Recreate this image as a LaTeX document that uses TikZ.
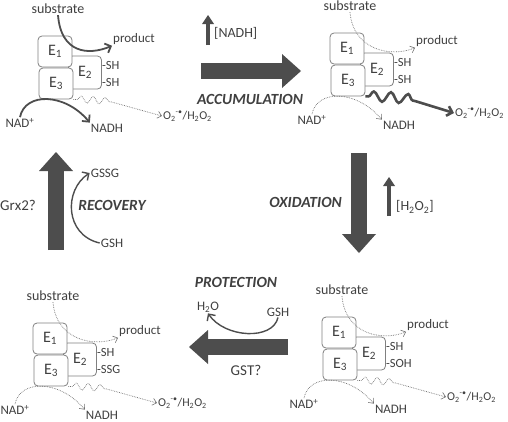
\documentclass[tikz,border=0pt]{standalone}
\usepackage{fontspec}
\setmainfont{Carlito}
\usetikzlibrary{arrows.meta,decorations.pathmorphing}

\definecolor{ink}{HTML}{404040}
\definecolor{fat}{HTML}{4D4D4D}
\definecolor{rim}{HTML}{808080}

\begin{document}
\begin{tikzpicture}[x=1pt,y=-1pt,
  every node/.style={text=ink,inner sep=1pt,font=\fontsize{13}{15}\selectfont},
  enz/.style={draw=rim,fill=white,line width=0.8pt,rounded corners=4pt,minimum width=34pt,minimum height=31pt,font=\fontsize{16}{18}\selectfont},
  phase/.style={font=\fontsize{15.5}{18}\selectfont\bfseries\itshape},
  enzname/.style={font=\fontsize{15}{17}\selectfont},
  bigarrow/.style={draw=fat,line width=16pt,-{Triangle[length=19pt,width=34pt,line width=0pt]}},
  rise/.style={draw=fat,line width=3.5pt,-{Triangle[length=9pt,width=12pt,line width=0pt]}},
  flow/.style={draw=fat,line width=1.8pt,-{Straight Barb[length=5pt,width=10pt]}},
  glu/.style={draw=fat,line width=1.4pt,-{Straight Barb[length=5pt,width=10pt]}},
  leak/.style={draw=ink!75,densely dotted,line width=0.7pt,-{Straight Barb[length=4pt,width=7pt,line width=0.6pt]}},
  wave/.style={decorate,decoration={snake,amplitude=3.5pt,segment length=12pt,pre length=4pt,post length=52pt}},
]
\useasboundingbox (0,0) rectangle (508,421);

% the four states of the complex
\foreach \p/\x/\y/\t/\px/\py in {A/38/36/SH/96/3,B/330/33/SH/107/8,C/322/317/SOH/106/8,D/33/323/SSG/107/8}{
  \begin{scope}[shift={(\x,\y)},name prefix=\p-]
    \node[enz,minimum width=33pt,minimum height=33pt] (E2) at (47,36.5) {E\textsubscript{2}};
    \node[enz] (E1) at (17,15.5) {E\textsubscript{1}};
    \node[enz] (E3) at (18,47.5) {E\textsubscript{3}};
    \node[anchor=west,inner sep=0pt,font=\fontsize{12.5}{14}\selectfont] (s1) at (E2.east |- 0,29) {-SH};
    \node[anchor=west,inner sep=0pt,font=\fontsize{12.5}{14}\selectfont] (s2) at (E2.east |- 0,46) {-\t};
    \node[font=\fontsize{14}{16}\selectfont] (sub) at (20,-27) {substrate};
    \node (prod) at (\px,\py) {product};
    \node (nad) at (-18,87) {NAD\textsuperscript{+}};
    \node (nadh) at (69,92) {NADH};
    \node[anchor=west,font=\fontsize{12}{14}\selectfont] (ros) at (124,80) {O\textsubscript{2}\textsuperscript{-\textbullet}/H\textsubscript{2}O\textsubscript{2}};
  \end{scope}
}

% A: working complex
\draw[flow] (A-sub.south) .. controls +(3,38) and +(-24,10) .. (A-prod.south west);
\draw[flow] (A-nad.north) .. controls +(5,-25) and +(-25,-30) .. (A-nadh.north west);
\draw[leak,wave] (A-E3.south east) to[bend left=10] (A-ros.west);

% B: NADH piles up
\draw[leak] (B-sub.south) .. controls +(3,38) and +(-24,10) .. (B-prod.south west);
\draw[leak] (B-nad.north) .. controls +(5,-25) and +(-25,-30) .. (B-nadh.north west);
\draw[flow,line width=2.6pt,decorate,decoration={snake,amplitude=5pt,segment length=17pt,pre length=3pt,post length=40pt}] (B-E3.south east) to[bend left=10] (B-ros.west);

% C and D
\foreach \p in {C,D}{
  \draw[leak] (\p-sub.south) .. controls +(3,38) and +(-24,10) .. (\p-prod.south west);
  \draw[leak] (\p-nad.north) .. controls +(5,-25) and +(-25,-30) .. (\p-nadh.north west);
  \draw[leak,wave] (\p-E3.south east) to[bend left=10] (\p-ros.west);
}

% the cycle
\coordinate (acc1) at (201,71);
\coordinate (acc2) at (301,71);
\draw[bigarrow] (acc1) -- (acc2);
\node[phase] (acc) at (250,99) {ACCUMULATION};
\coordinate (up1) at (208,45);
\coordinate (up2) at (208,15);
\draw[rise] (up1) -- (up2);
\node[anchor=west,font=\fontsize{14}{16}\selectfont] (nadhlevel) at (213,33) {[NADH]};

\coordinate (ox1) at (359,153);
\coordinate (ox2) at (359,253);
\draw[bigarrow] (ox1) -- (ox2);
\node[phase,anchor=east] (ox) at (343,202) {OXIDATION};
\coordinate (up3) at (389,216);
\coordinate (up4) at (389,177);
\draw[rise] (up3) -- (up4);
\node[anchor=west,font=\fontsize{14}{16}\selectfont] (h2o2level) at (395,207) {[H\textsubscript{2}O\textsubscript{2}]};

\coordinate (pr1) at (288,347);
\coordinate (pr2) at (189,347);
\draw[bigarrow] (pr1) -- (pr2);
\node[phase] (prot) at (236,282) {PROTECTION};
\node (water) at (208,307) {H\textsubscript{2}O};
\node (gsh1) at (278,312) {GSH};
\node[enzname] (gst) at (246,370) {GST?};
\draw[glu] (gsh1.south) .. controls +(-5,23) and +(17,25) .. (water.south);

\coordinate (re1) at (56,250);
\coordinate (re2) at (56,152);
\draw[bigarrow] (re1) -- (re2);
\node[phase] (rec) at (112,205) {RECOVERY};
\node[enzname] (grx) at (18,205) {Grx2?};
\node (gssg) at (105,173) {GSSG};
\node (gsh2) at (112,243) {GSH};
\draw[glu] (gsh2.west) .. controls +(-35,-8) and +(-26,17) .. (gssg.west);
\end{tikzpicture}
\end{document}
